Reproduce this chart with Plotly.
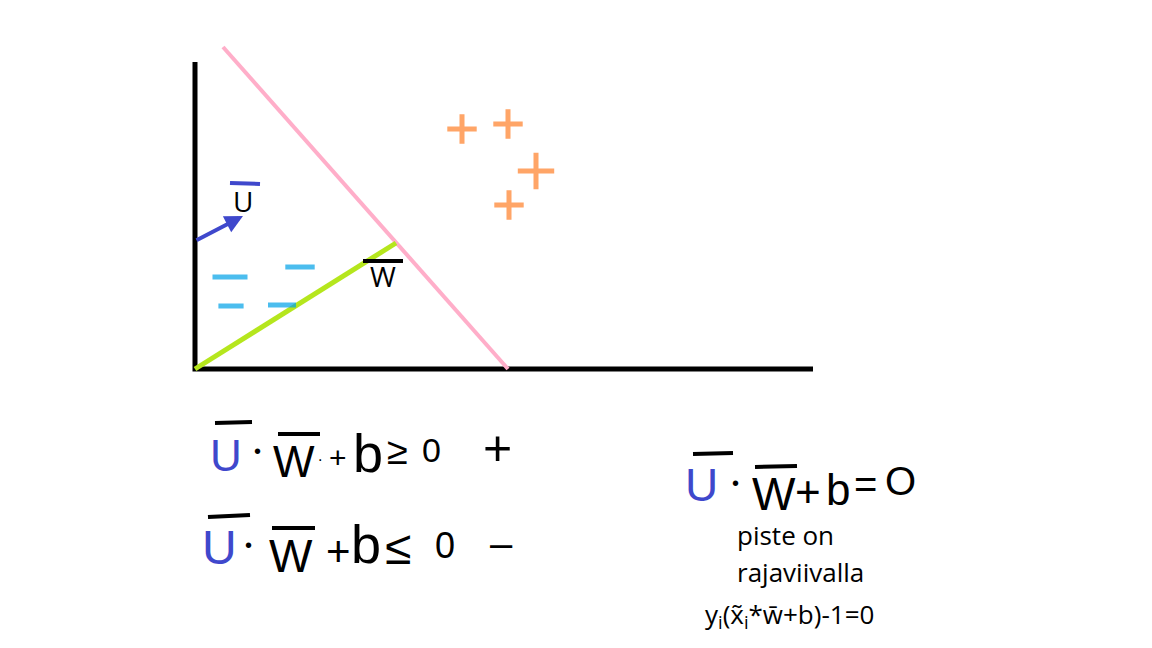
import plotly.graph_objects as go

# ---- data (drawing space in pixels, y grows downward) ----
axes_x = [195, 195, 813]
axes_y = [62, 369, 369]
boundary_x = [223, 508]
boundary_y = [47, 369]
w_x = [195, 396]
w_y = [369, 243]
u_x = [195, 243]
u_y = [241, 216]
pos_x = [462, 508, 536, 509]
pos_y = [129, 124, 171, 205]
pos_size = [21, 21, 26, 21]
neg_x = [230, 300, 231, 282]
neg_y = [277, 267, 306, 305]
neg_size = [25, 21, 18, 20]

# handwritten formula glyphs: char, x, y, size, colour
BLUE = "#3f48cc"
glyphs = [
    ("U", 226, 455, 44, BLUE), ("•", 257, 451, 20, "black"), ("W", 294, 461, 44, "black"),
    (".", 320, 455, 16, "black"), ("+", 338, 457, 30, "black"), ("b", 368, 453, 54, "black"),
    ("≥", 397, 451, 38, "black"), ("0", 431, 450, 34, "black"), ("+", 497, 448, 50, "black"),
    ("U", 219, 547, 48, BLUE), ("•", 248, 545, 20, "black"), ("W", 291, 556, 46, "black"),
    ("+", 338, 551, 42, "black"), ("b", 366, 544, 54, "black"), ("≤", 398, 547, 48, "black"),
    ("0", 445, 545, 36, "black"), ("–", 501, 543, 40, "black"),
    ("U", 701, 485, 46, BLUE), ("•", 735, 483, 20, "black"), ("W", 774, 494, 46, "black"),
    ("+", 808, 491, 44, "black"), ("b", 838, 489, 44, "black"), ("=", 865, 484, 40, "black"),
    ("O", 900, 481, 40, "black"),
]
overbars = [
    (215, 423, 252, 422, "black"), (278, 434, 320, 434, "black"),
    (208, 517, 250, 515, "black"), (272, 528, 315, 528, "black"),
    (693, 454, 733, 453, "black"), (755, 467, 797, 466, "black"),
    (230, 183, 260, 184, BLUE), (363, 261, 403, 261, "black"),
]
labels = [
    ("U", 243, 201, 28), ("W", 383, 276, 28),
]
notes = [
    ("piste on", 735, 535), ("rajaviivalla", 735, 572),
    ("y<sub>i</sub>(x\u0303<sub>i</sub>*w\u0304+b)-1=0", 703, 615),
]

fig = go.Figure()
fig.add_trace(go.Scatter(x=axes_x, y=axes_y, mode="lines",
                         line=dict(color="black", width=5)))
fig.add_trace(go.Scatter(x=boundary_x, y=boundary_y, mode="lines",
                         line=dict(color="#ffaec9", width=4)))
fig.add_trace(go.Scatter(x=w_x, y=w_y, mode="lines",
                         line=dict(color="#b5e61d", width=5)))
fig.add_trace(go.Scatter(x=pos_x, y=pos_y, mode="markers",
                         marker=dict(symbol="cross-thin", size=pos_size,
                                     line=dict(color="#ff7f27", width=5))))
fig.add_trace(go.Scatter(x=neg_x, y=neg_y, mode="markers",
                         marker=dict(symbol="line-ew", size=neg_size,
                                     line=dict(color="#00a2e8", width=5))))

annotations = [dict(x=u_x[1], y=u_y[1], ax=u_x[0], ay=u_y[0], xref="x", yref="y",
                    axref="x", ayref="y", showarrow=True, arrowhead=2, arrowsize=0.9,
                    arrowwidth=4, arrowcolor=BLUE, text="")]
for ch, x, y, s, c in glyphs:
    annotations.append(dict(x=x, y=y, text=ch, showarrow=False, xanchor="center",
                            yanchor="middle",
                            font=dict(family="Liberation Sans", size=s, color=c)))
for ch, x, y, s in labels:
    annotations.append(dict(x=x, y=y, text=ch, showarrow=False, xanchor="center",
                            yanchor="middle",
                            font=dict(family="Open Sans", size=s, color="black")))
for t, x, y in notes:
    annotations.append(dict(x=x, y=y, text=t, showarrow=False, xanchor="left",
                            yanchor="middle",
                            font=dict(family="Open Sans", size=26, color="black")))

shapes = [dict(type="line", x0=a, y0=b, x1=c, y1=d, xref="x", yref="y",
               line=dict(color=col, width=4)) for a, b, c, d, col in overbars]

# the page adds an 8px body margin, so the drawing space starts at pixel 8
fig.update_layout(
    width=1144, height=640, margin=dict(l=0, r=0, t=0, b=0),
    paper_bgcolor="white", plot_bgcolor="white", showlegend=False,
    xaxis=dict(range=[8, 1152], visible=False, fixedrange=True),
    yaxis=dict(range=[648, 8], visible=False, fixedrange=True),
    annotations=annotations, shapes=shapes,
)
fig.write_html("out.html")
